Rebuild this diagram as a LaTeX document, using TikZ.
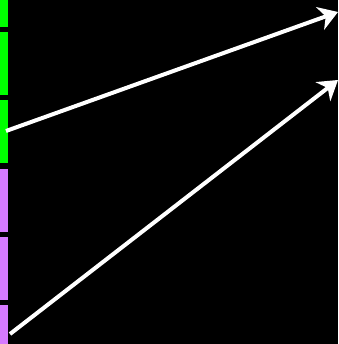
\documentclass[tikz,border=0pt]{standalone}
\usetikzlibrary{arrows.meta}
\definecolor{barg}{RGB}{0,255,0}
\definecolor{barv}{RGB}{214,122,255}
\tikzset{
  seg/.style={fill=#1, draw=none},
  arr/.style={draw=white, line width=4pt, -{Stealth[length=19pt,width=24pt,inset=6pt]}}
}
\begin{document}
\begin{tikzpicture}[x=1pt,y=-1pt]
\fill[black] (0,0) rectangle (338,344);
\useasboundingbox (0,0) rectangle (338,344);
\fill[barg] (0,-36) rectangle (8,27);
\fill[barg] (0,32) rectangle (8,95);
\fill[barg] (0,100) rectangle (8,163);
\fill[barv] (0,169) rectangle (8,232);
\fill[barv] (0,237) rectangle (8,300);
\fill[barv] (0,305) rectangle (8,368);
\coordinate (a1) at (6,131);
\coordinate (b1) at (338,12);
\coordinate (a2) at (10,334);
\coordinate (b2) at (338,80);
\draw[arr] (a1) -- (b1);
\draw[arr] (a2) -- (b2);
\end{tikzpicture}
\end{document}
